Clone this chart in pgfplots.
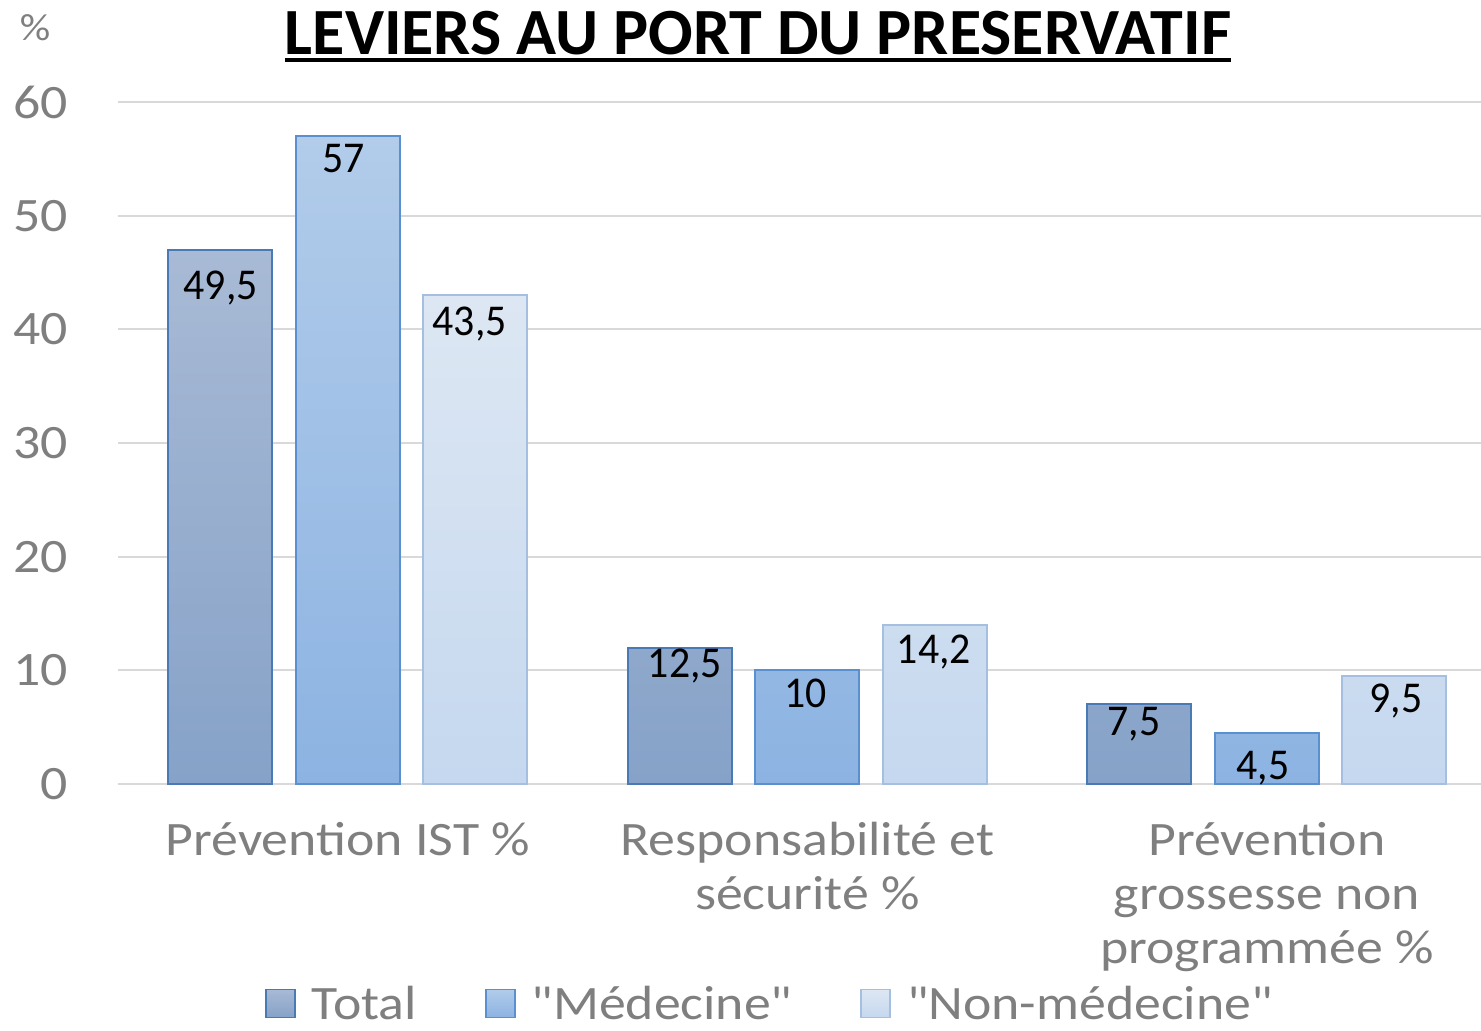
\documentclass[border=0pt]{standalone}
\usepackage{pgfplots}
\pgfplotsset{compat=1.18}
\usepackage{pgfplotstable}
\usepackage{fontspec}
\setmainfont{Carlito}
\newfontfamily\axisfont{Carlito}[FakeStretch=1.12]
\newfontfamily\labfont{Carlito}[FakeStretch=0.95]
\definecolor{axisgray}{HTML}{7F7F7F}
\definecolor{gridgray}{HTML}{D9D9D9}
\definecolor{totTop}{HTML}{A8BAD5}
\definecolor{totBot}{HTML}{86A2C8}
\definecolor{totLine}{HTML}{4A7AB5}
\definecolor{medTop}{HTML}{B2CCEA}
\definecolor{medBot}{HTML}{8CB3E2}
\definecolor{medLine}{HTML}{5A8FD0}
\definecolor{nonTop}{HTML}{DDE7F3}
\definecolor{nonBot}{HTML}{C5D8EF}
\definecolor{nonLine}{HTML}{A5BFE0}

\pgfplotstableread{
x total med non
0 47 57 43
1 12 10 14
2 7 4.5 9.5
}\bardata

\pgfplotstableread{
x y label
-0.2764 43.19 49,5
-0.0087 54.36 57
0.2655 40.02 43,5
0.7334 9.94 12,5
0.9967 7.30 10
1.2753 11.17 14,2
1.7106 4.83 7,5
1.9913 0.96 4,5
2.2807 6.86 9,5
}\labdata

\newcommand\mytitle{\setbox0\hbox{\bfseries\fontsize{33}{33}\selectfont LEVIERS AU PORT DU PRESERVATIF}\rlap{\copy0}\rule[-4pt]{\wd0}{2pt}}

\begin{document}
\begin{tikzpicture}
\begin{axis}[
  at={(0pt,0pt)}, anchor=south west,
  scale only axis, width=681.5pt, height=341pt,
  xmin=-0.5, xmax=2.466, ymin=0, ymax=60,
  ytick={0,10,20,30,40,50,60},
  xtick={0,1,2},
  xticklabels={{Prévention IST \%},{Responsabilité et\\sécurité \%},{Prévention\\grossesse non\\programmée \%}},
  axis line style={draw=none},
  major tick length=0pt,
  tick style={draw=none},
  ymajorgrids, grid style={color=gridgray, line width=1pt},
  clip=false,
  /pgf/number format/assume math mode=true,
  yticklabel style={font=\axisfont\fontsize{24}{24}\selectfont, text=axisgray, anchor=east, inner sep=0pt, xshift=-25pt},
  xticklabel style={font=\axisfont\fontsize{24}{27}\selectfont, text=axisgray, align=center, anchor=north, inner sep=0pt, yshift=-19pt},
  title={\mytitle},
  title style={at={(0.4696,1)}, anchor=base, inner sep=0pt, yshift=18pt},
  ylabel={\%},
  ylabel style={rotate=-90, at={(-0.0609,1.1085)}, anchor=center, font=\axisfont\fontsize{19}{19}\selectfont, text=axisgray},
  legend columns=3,
  legend style={at={(0.4790,-0.2900)}, anchor=north, draw=none, fill=none, inner sep=0pt,
    font=\axisfont\fontsize{24}{24}\selectfont,
    /tikz/every odd column/.append style={column sep=6pt},
    /tikz/every even column/.append style={column sep=32pt}},
  legend image code/.code={\draw[#1, line width=0.8pt] (0pt,-6.5pt) rectangle (14.5pt,7.5pt);},
]
\addplot[ybar, bar width=0.2263, bar shift=-0.2775, draw=totLine, line width=1pt, top color=totTop, bottom color=totBot] table[x=x, y=total] {\bardata};
\addplot[ybar, bar width=0.2263, bar shift=0, draw=medLine, line width=1pt, top color=medTop, bottom color=medBot] table[x=x, y=med] {\bardata};
\addplot[ybar, bar width=0.2263, bar shift=0.2775, draw=nonLine, line width=1pt, top color=nonTop, bottom color=nonBot] table[x=x, y=non] {\bardata};
\addplot[draw=none, mark=none, nodes near coords, point meta=explicit symbolic, forget plot,
  every node near coord/.append style={anchor=center, inner sep=0pt, text height=0.63em, text depth=0pt, font=\labfont\fontsize{22}{22}\selectfont, text=black}]
  table[x=x, y=y, meta=label] {\labdata};
\legend{\textcolor{axisgray}{Total},\textcolor{axisgray}{"Médecine"},\textcolor{axisgray}{"Non-médecine"}}
\end{axis}
\pgfresetboundingbox
\path[use as bounding box] (-59pt,-123pt) rectangle (681.5pt,392pt);
\end{tikzpicture}
\end{document}
